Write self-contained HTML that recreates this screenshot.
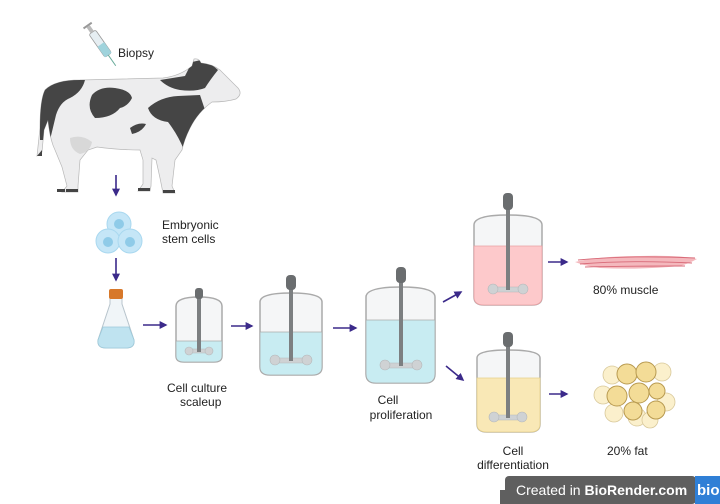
<!DOCTYPE html>
<html><head><meta charset="utf-8"><style>
html,body{margin:0;padding:0;background:#fff;width:720px;height:504px;overflow:hidden}
text{font-family:"Liberation Sans",sans-serif;font-size:12px;fill:#222}
</style></head><body>
<svg width="720" height="504" viewBox="0 0 720 504" xmlns="http://www.w3.org/2000/svg">
<defs>
<marker id="ah" viewBox="0 0 10 10" refX="8" refY="5" markerWidth="5" markerHeight="5" orient="auto"><path d="M0,0 L10,5 L0,10 z" fill="#3b2a8a"/></marker>
<clipPath id="cowclip"><path id="cowp" d="M45,90 Q55,80 80,80 L163,78 Q180,76 192,66 L194,59 Q199,58 201,63 Q212,64 220,70 Q230,80 238,88 Q243,94 236,99 Q226,102 212,102 Q198,112 190,128 Q184,140 182,150 L175,160 L172,186 L175,193 L163,193 L160,178 L156,160 L152,158 L151,186 L150,191 L138,191 L143,184 L143,160 L140,150 Q120,150 97,147 L88,150 L80,160 L78,186 L78,192 L62,192 L67,186 L62,167 L55,150 Q50,140 48,120 L44,130 L42,152 L37,156 L40,128 Q40,100 45,90 Z"/></clipPath>
</defs>

<!-- cow -->
<use href="#cowp" fill="#ededee" stroke="#b8b8b8" stroke-width="0.7"/>
<g clip-path="url(#cowclip)" fill="#454545">
<path d="M40,80 L85,80 Q82,92 70,98 Q60,102 56,115 L50,140 L40,140Z"/>
<path d="M92,95 Q100,86 115,88 Q130,90 132,98 Q128,106 120,108 Q112,118 95,118 Q86,108 92,95Z"/>
<path d="M148,108 Q160,97 178,96 L200,95 L205,110 Q195,120 188,140 L184,150 Q178,135 168,122 Q152,120 148,108Z"/>
<path d="M160,80 L185,76 L192,62 L201,60 Q212,64 218,70 Q210,80 205,88 Q195,92 180,90 Q168,88 160,80Z"/>
<path d="M130,128 Q138,122 146,124 Q142,132 132,134 Z"/>
</g>
<path d="M70,138 Q82,134 92,142 Q90,152 80,154 Q70,150 70,138Z" fill="#d8d8d8"/>
<path d="M42,150 L37,156 L42,156Z" fill="#444"/>
<g fill="#444"><rect x="163" y="190" width="12" height="3"/><rect x="138" y="188" width="12" height="3"/><rect x="66" y="189" width="12" height="3"/><rect x="57" y="189" width="8" height="3"/></g>
<!-- syringe -->
<g transform="rotate(55 100 45)">
<rect x="85" y="40" width="28" height="8" rx="2" fill="#e6eef2" stroke="#999" stroke-width="0.8"/>
<rect x="100" y="40" width="13" height="8" fill="#9fd3dc"/>
<rect x="78" y="42" width="7" height="4" fill="#bbb"/>
<rect x="76" y="39" width="2" height="10" fill="#999"/>
<line x1="113" y1="44" x2="126" y2="44" stroke="#6a9" stroke-width="1"/>
</g>
<text x="118" y="57">Biopsy</text>

<!-- arrows -->
<g stroke="#3b2a8a" stroke-width="1.6" fill="none" marker-end="url(#ah)">
<line x1="116" y1="175" x2="116" y2="195"/>
<line x1="116" y1="258" x2="116" y2="280"/>
<line x1="143" y1="325" x2="166" y2="325"/>
<line x1="231" y1="326" x2="252" y2="326"/>
<line x1="333" y1="328" x2="356" y2="328"/>
<line x1="443" y1="302" x2="461" y2="292"/>
<line x1="446" y1="366" x2="463" y2="380"/>
<line x1="548" y1="262" x2="567" y2="262"/>
<line x1="549" y1="394" x2="567" y2="394"/>
</g>

<!-- stem cells -->
<g stroke="#a9d8ef" stroke-width="1">
<circle cx="119" cy="224" r="12" fill="#c5e6f7"/>
<circle cx="108" cy="241" r="12" fill="#c5e6f7"/>
<circle cx="130" cy="241" r="12" fill="#c5e6f7"/>
</g>
<circle cx="119" cy="224" r="5" fill="#8fcbe8"/>
<circle cx="108" cy="242" r="5" fill="#8fcbe8"/>
<circle cx="130" cy="242" r="5" fill="#8fcbe8"/>
<text x="162" y="229">Embryonic</text>
<text x="162" y="243">stem cells</text>

<!-- flask -->
<path d="M110,298 L122,298 L122,304 L134,340 Q135,348 126,348 L106,348 Q97,348 98,340 L110,304Z" fill="#f0f5f8" stroke="#b8c4cc" stroke-width="1"/>
<path d="M103,327 L129,327 L134,340 Q135,348 126,348 L106,348 Q97,348 98,340Z" fill="#bfe3f0" stroke="#9cc9da" stroke-width="0.8"/>
<rect x="109" y="289" width="14" height="10" rx="2" fill="#d7782a"/>

<!-- reactors -->
<g stroke="#aaa" stroke-width="1.5">
<path d="M176,306 Q176,297 199,297 Q222,297 222,306 L222,356 Q222,362 214,362 L184,362 Q176,362 176,356Z" fill="#f5f6f7"/>
<path d="M176,341 L222,341 L222,356 Q222,362 214,362 L184,362 Q176,362 176,356Z" fill="#c8ecf2" stroke-width="0.8"/>
<path d="M260,302 Q260,293 291,293 Q322,293 322,302 L322,367 Q322,375 312,375 L270,375 Q260,375 260,367Z" fill="#f5f6f7"/>
<path d="M260,332 L322,332 L322,367 Q322,375 312,375 L270,375 Q260,375 260,367Z" fill="#c8ecf2" stroke-width="0.8"/>
<path d="M366,297 Q366,287 401,287 Q435,287 435,297 L435,374 Q435,383 425,383 L376,383 Q366,383 366,374Z" fill="#f5f6f7"/>
<path d="M366,320 L435,320 L435,374 Q435,383 425,383 L376,383 Q366,383 366,374Z" fill="#c8ecf2" stroke-width="0.8"/>
<path d="M474,225 Q474,215 508,215 Q542,215 542,225 L542,297 Q542,305 532,305 L484,305 Q474,305 474,297Z" fill="#f5f6f7"/>
<path d="M474,246 L542,246 L542,297 Q542,305 532,305 L484,305 Q474,305 474,297Z" fill="#fdc9cb" stroke="#e9a0a3" stroke-width="0.8"/>
<path d="M477,358 Q477,350 508,350 Q540,350 540,358 L540,424 Q540,432 530,432 L487,432 Q477,432 477,424Z" fill="#f5f6f7"/>
<path d="M477,378 L540,378 L540,424 Q540,432 530,432 L487,432 Q477,432 477,424Z" fill="#f9e8b6" stroke="#e5d08c" stroke-width="0.8"/>
</g>
<g fill="#cfd2d4" stroke="#b5b8ba" stroke-width="0.6">
<rect x="188" y="349" width="22" height="4" rx="2"/><circle cx="189" cy="351" r="4"/><circle cx="209" cy="351" r="4"/>
<rect x="273" y="358" width="36" height="5" rx="2"/><circle cx="275" cy="360" r="5"/><circle cx="307" cy="360" r="5"/>
<rect x="383" y="363" width="36" height="5" rx="2"/><circle cx="385" cy="365" r="5"/><circle cx="417" cy="365" r="5"/>
<rect x="491" y="287" width="34" height="5" rx="2"/><circle cx="493" cy="289" r="5"/><circle cx="523" cy="289" r="5"/>
<rect x="492" y="415" width="32" height="5" rx="2"/><circle cx="494" cy="417" r="5"/><circle cx="522" cy="417" r="5"/>
</g>
<g fill="#7c7f81">
<rect x="197" y="296" width="4" height="56"/><rect x="195" y="288" width="8" height="11" rx="3" fill="#6a6d6f"/>
<rect x="289" y="288" width="4" height="73"/><rect x="286" y="275" width="10" height="15" rx="4" fill="#6a6d6f"/>
<rect x="399" y="280" width="4" height="86"/><rect x="396" y="267" width="10" height="16" rx="4" fill="#6a6d6f"/>
<rect x="506" y="208" width="4" height="82"/><rect x="503" y="193" width="10" height="17" rx="4" fill="#6a6d6f"/>
<rect x="506" y="344" width="4" height="74"/><rect x="503" y="332" width="10" height="15" rx="4" fill="#6a6d6f"/>
</g>
<text x="167" y="392">Cell culture</text>
<text x="180" y="406">scaleup</text>
<text x="388" y="404" text-anchor="middle">Cell</text>
<text x="401" y="419" text-anchor="middle">proliferation</text>
<text x="513" y="455" text-anchor="middle">Cell</text>
<text x="513" y="469" text-anchor="middle">differentiation</text>

<!-- muscle -->
<path d="M575,262 Q600,256 640,256 Q680,255 697,259 Q690,263 680,266 Q640,270 600,268 Q585,266 575,262Z" fill="#f4b8bd"/>
<g stroke="#d86a78" stroke-width="0.9" fill="none">
<path d="M578,260 Q630,255 695,258"/>
<path d="M580,264 Q630,260 692,263"/>
<path d="M585,267 Q630,266 685,266"/>
</g>
<text x="593" y="294">80% muscle</text>

<!-- fat -->
<g stroke="#d8c89a" stroke-width="0.8" fill="#fbf0cc">
<circle cx="612" cy="375" r="9"/><circle cx="662" cy="372" r="9"/><circle cx="666" cy="402" r="9"/>
<circle cx="614" cy="413" r="9"/><circle cx="637" cy="417" r="9"/><circle cx="603" cy="395" r="9"/><circle cx="650" cy="420" r="8"/>
</g>
<g stroke="#b89a50" stroke-width="1" fill="#f3dc97">
<circle cx="627" cy="374" r="10"/><circle cx="646" cy="372" r="10"/><circle cx="617" cy="396" r="10"/>
<circle cx="639" cy="393" r="10"/><circle cx="657" cy="391" r="8"/><circle cx="633" cy="411" r="9"/><circle cx="656" cy="410" r="9"/>
</g>
<text x="607" y="455">20% fat</text>

<!-- badge -->
<rect x="505" y="476" width="191" height="28" rx="4" fill="#5f5f5f"/>
<rect x="500" y="490" width="10" height="14" fill="#5f5f5f"/>
<rect x="695" y="476" width="25" height="28" fill="#2f7fd6"/>
<text x="516" y="495" style="font-size:14px;fill:#fff">Created in <tspan font-weight="bold">BioRender.com</tspan></text>
<text x="697" y="495" style="font-size:15px;fill:#fff;font-weight:bold">bio</text>
</svg>
</body></html>
